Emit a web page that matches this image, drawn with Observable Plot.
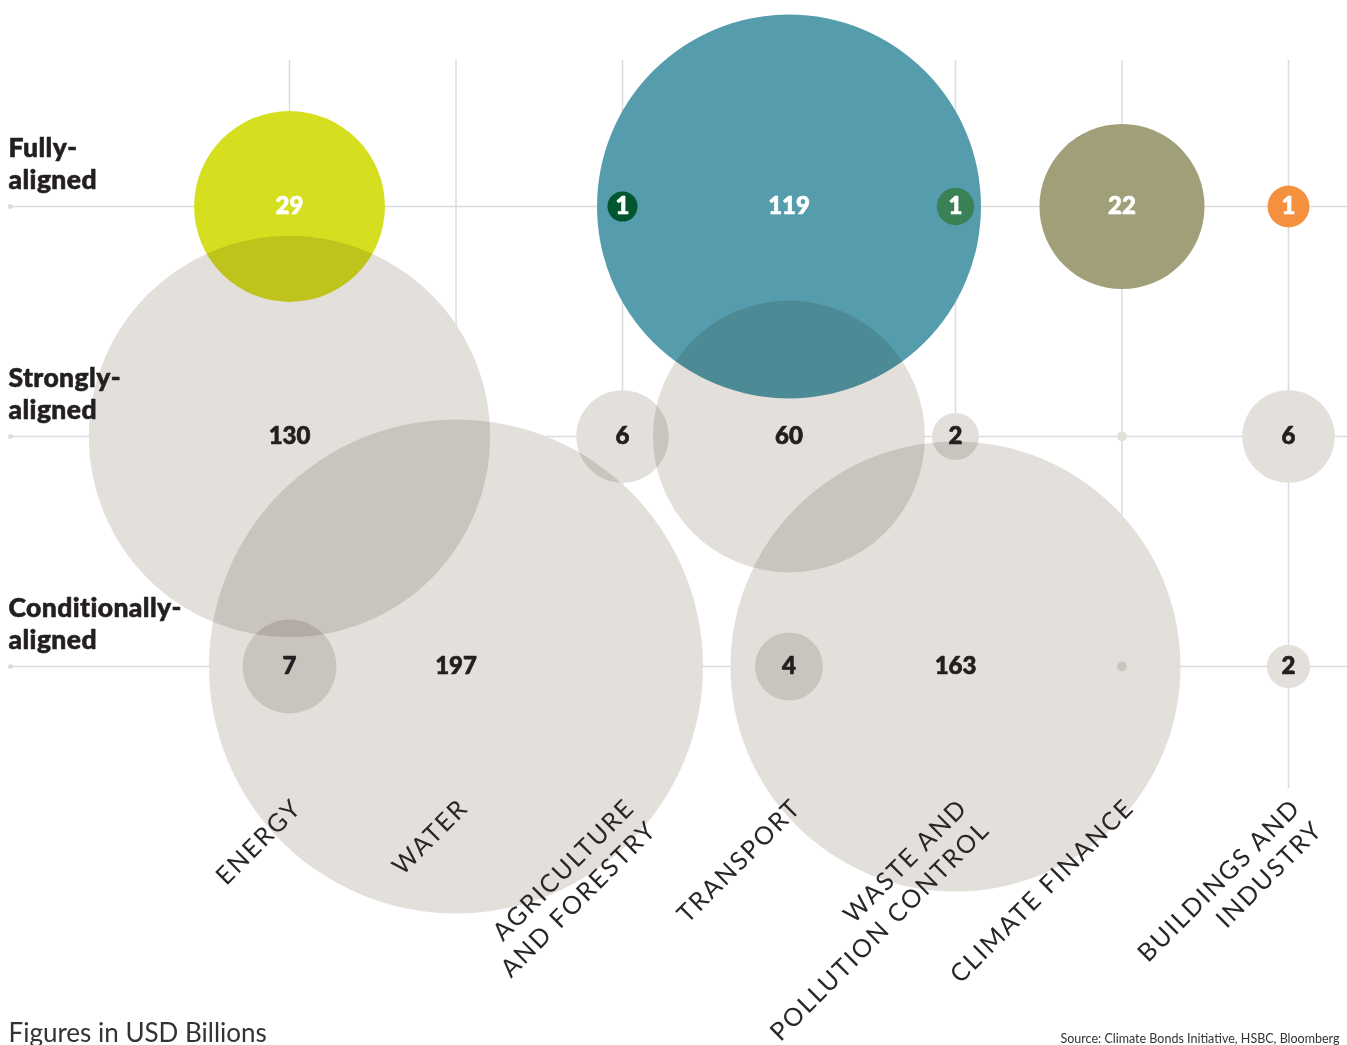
<!DOCTYPE html>
<html>
<head>
<meta charset="utf-8">
<script src="https://cdn.jsdelivr.net/npm/d3@7"></script>
<script src="https://cdn.jsdelivr.net/npm/@observablehq/plot@0.6"></script>
<style>
  html, body { margin: 0; padding: 0; background: #fff; }
  #chart svg { display: block; }
</style>
</head>
<body>
<div id="chart"></div>
<script>
// ---- Data ----
const categories = ["ENERGY", "WATER", "AGRICULTURE\nAND FORESTRY", "TRANSPORT", "WASTE AND\nPOLLUTION CONTROL", "CLIMATE FINANCE", "BUILDINGS AND\nINDUSTRY"];
const rows = ["Fully-\naligned", "Strongly-\naligned", "Conditionally-\naligned"];

// values (USD bn) and printed labels
const fullyValues = [29.4, null, 0.73, 119, 1.13, 22, 1.42];
const fullyLabels = ["29", "", "1", "119", "1", "22", "1"];
const fullyColors = ["#d6df1f", null, "#00572f", "#559dad", "#3a8155", "#a19f78", "#f5913e"];

const stronglyValues = [130, null, 6.9, 59.7, 1.78, 0.08, 6.9];
const stronglyLabels = ["130", "", "6", "60", "2", "", "6"];

const conditionallyValues = [7.1, 197, null, 3.73, 163.5, 0.08, 1.52];
const conditionallyLabels = ["7", "197", "", "4", "163", "", "2"];

const greyColor = "#e3e0dc";
const inkColor = "#231f20";

// ---- Build table ----
const table = [];
categories.forEach((c, i) => {
  if (fullyValues[i] != null) table.push({category: c, row: rows[0], value: fullyValues[i], label: fullyLabels[i], color: fullyColors[i], small: fullyValues[i] < 2, colored: true});
  if (stronglyValues[i] != null) table.push({category: c, row: rows[1], value: stronglyValues[i], label: stronglyLabels[i], color: greyColor, small: false, colored: false});
  if (conditionallyValues[i] != null) table.push({category: c, row: rows[2], value: conditionallyValues[i], label: conditionallyLabels[i], color: greyColor, small: false, colored: false});
});
const blended = table.filter(d => !d.small);
const onTop = table.filter(d => d.small);

const chart = Plot.plot({
  width: 1347,
  height: 1045,
  marginTop: 0, marginRight: 0, marginBottom: 0, marginLeft: 0,
  style: {fontFamily: "Lato, 'Open Sans', sans-serif", background: "#fff", overflow: "visible"},
  x: {type: "point", domain: categories, range: [289, 1288], padding: 0, round: false, axis: null},
  y: {type: "point", domain: rows, range: [206, 666], padding: 0, round: false, axis: null},
  r: {type: "sqrt", domain: [0, 197], range: [0, 247]},
  marks: [
    Plot.ruleX(categories, {x: d => d, stroke: "#dcdcdf", strokeWidth: 1.5, insetTop: 60, insetBottom: 257}),
    Plot.ruleY(rows, {y: d => d, stroke: "#dcdcdf", strokeWidth: 1.5, insetLeft: 10}),
    Plot.dot(rows, {y: d => d, frameAnchor: "left", dx: 10, r: 2.5, fill: "#dcdcdf", stroke: null}),
    Plot.dot(blended, {x: "category", y: "row", r: "value", fill: d => d.color, stroke: null, mixBlendMode: "multiply"}),
    Plot.dot(onTop, {x: "category", y: "row", r: "value", fill: d => d.color, stroke: null}),
    Plot.text(table.filter(d => d.label), {
      x: "category", y: "row", text: "label",
      fill: d => d.colored ? "#ffffff" : inkColor,
      stroke: d => d.colored ? "#ffffff" : inkColor, strokeWidth: 0.7,
      fontSize: 24, fontWeight: 900, textAnchor: "middle", lineAnchor: "middle"
    }),
    // Row labels
    Plot.text(rows, {
      y: d => d, text: d => d, frameAnchor: "left", textAnchor: "start", dx: 8, dy: -18,
      lineAnchor: "bottom", lineHeight: 1.2, fontSize: 26.5, fontWeight: 900, fill: inkColor,
      stroke: inkColor, strokeWidth: 0.6
    }),
    // Category labels
    Plot.text(categories, {
      x: d => d, y: () => rows[2], text: d => d, rotate: -45, textAnchor: "end", lineAnchor: "top",
      dx: -2, dy: 127, lineHeight: 1.25, fontSize: 25, fontWeight: 400, fill: "#2a2627"
    }),
    // Footer
    Plot.text(["Figures in USD Billions"], {
      frameAnchor: "bottom-left", text: d => d, dx: 8, dy: -4, textAnchor: "start", lineAnchor: "bottom",
      fontSize: 26, fontWeight: 400, fill: "#333"
    }),
    Plot.text(["Source: Climate Bonds Initiative, HSBC, Bloomberg"], {
      frameAnchor: "bottom-right", text: d => d, dx: -8, dy: -3, textAnchor: "end", lineAnchor: "bottom",
      fontSize: 12.5, fill: "#333"
    })
  ]
});

d3.select(chart).selectAll("g[aria-label=dot]").style("isolation", "isolate");
const textGroups = d3.select(chart).selectAll("g[aria-label=text]");
// letter spacing for the rotated category labels
textGroups.filter(function() {
  return d3.select(this).selectAll("text[transform*=rotate]").size() > 0;
}).style("letter-spacing", "2px");
// slight tracking for the bold row labels
textGroups.filter(function() {
  return d3.select(this).text().includes("aligned");
}).style("letter-spacing", "0.4px");
document.getElementById("chart").appendChild(chart);
</script>
</body>
</html>
